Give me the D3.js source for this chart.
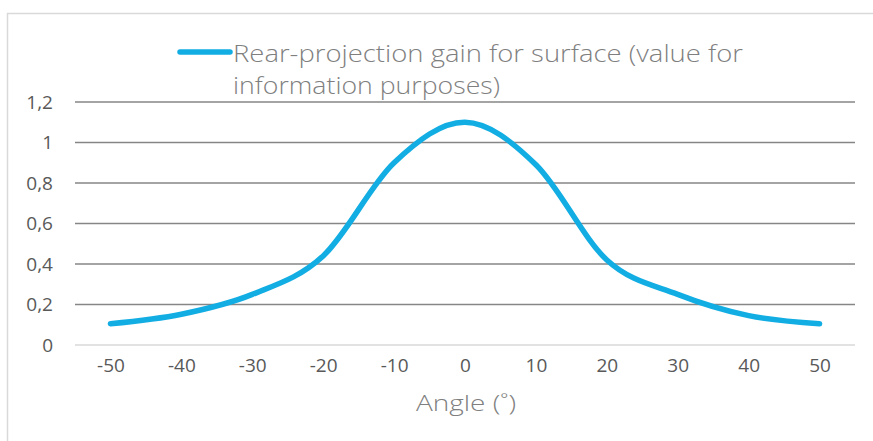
<!DOCTYPE html>
<meta charset="utf-8">
<style>
body { margin: 0; background: #fff; }
.tick text { font-family: "Open Sans", sans-serif; font-size: 19px; fill: #595959; }
.legend text, .title { font-family: "Open Sans", sans-serif; font-weight: 300; fill: #7f7f7f; }
</style>
<body>
<svg width="873" height="441"></svg>
<script src="https://cdnjs.cloudflare.com/ajax/libs/d3/7.8.5/d3.min.js"></script>
<script>

var angles = [-50, -40, -30, -20, -10, 0, 10, 20, 30, 40, 50];
var gain = [0.105, 0.152, 0.25, 0.44, 0.90, 1.10, 0.89, 0.42, 0.25, 0.145, 0.105];
var yTicks = [0, 0.2, 0.4, 0.6, 0.8, 1, 1.2];
var seriesName = ["Rear-projection gain for surface (value for", "information purposes)"];
var seriesWidth = [510, 267];

var svg = d3.select("svg");

// chart frame, only top and left edges show
svg.append("rect")
    .attr("x", 7.5).attr("y", 13.5)
    .attr("width", 900).attr("height", 450)
    .attr("fill", "none")
    .attr("stroke", "#d9d9d9")
    .attr("stroke-width", 1.5);

var x = d3.scalePoint()
    .domain(angles)
    .range([75, 855])
    .padding(0.5);

var y = d3.scaleLinear()
    .domain([0, 1.2])
    .range([345, 102]);

var fmt = function(d) { return String(d).replace(".", ","); };

// gridlines
svg.append("g").selectAll("line")
    .data(yTicks)
    .enter().append("line")
      .attr("x1", 75).attr("x2", 855)
      .attr("y1", function(d) { return y(d); })
      .attr("y2", function(d) { return y(d); })
      .attr("stroke", function(d) { return d === 0 ? "#d9d9d9" : "#868686"; })
      .attr("stroke-width", 1.5);

var yAxis = svg.append("g")
    .attr("transform", "translate(58,0)")
    .call(d3.axisLeft(y).tickValues(yTicks).tickFormat(fmt).tickSize(0).tickPadding(5));
yAxis.select(".domain").remove();

var xAxis = svg.append("g")
    .attr("transform", "translate(0,355)")
    .call(d3.axisBottom(x).tickSize(0).tickPadding(3));
xAxis.select(".domain").remove();

// curve
var line = d3.line()
    .x(function(d, i) { return x(angles[i]); })
    .y(function(d) { return y(d); })
    .curve(d3.curveCatmullRom.alpha(0));

svg.append("path")
    .datum(gain)
    .attr("d", line)
    .attr("fill", "none")
    .attr("stroke", "#12ade3")
    .attr("stroke-width", 5.5)
    .attr("stroke-linecap", "round");

// legend
var legend = svg.append("g").attr("class", "legend");
legend.append("line")
    .attr("x1", 180).attr("x2", 230)
    .attr("y1", 52).attr("y2", 52)
    .attr("stroke", "#12ade3")
    .attr("stroke-width", 5.5)
    .attr("stroke-linecap", "round");

legend.selectAll("text")
    .data(seriesName)
    .enter().append("text")
      .attr("x", 233)
      .attr("y", function(d, i) { return 62 + i * 32; })
      .attr("textLength", function(d, i) { return seriesWidth[i]; })
      .attr("lengthAdjust", "spacingAndGlyphs")
      .style("font-size", "23px")
      .text(function(d) { return d; });

svg.append("text")
    .attr("class", "title")
    .attr("x", 416).attr("y", 411)
    .attr("textLength", 100)
    .attr("lengthAdjust", "spacingAndGlyphs")
    .style("font-size", "22px")
    .text("Angle (˚)");

</script>
</body>
